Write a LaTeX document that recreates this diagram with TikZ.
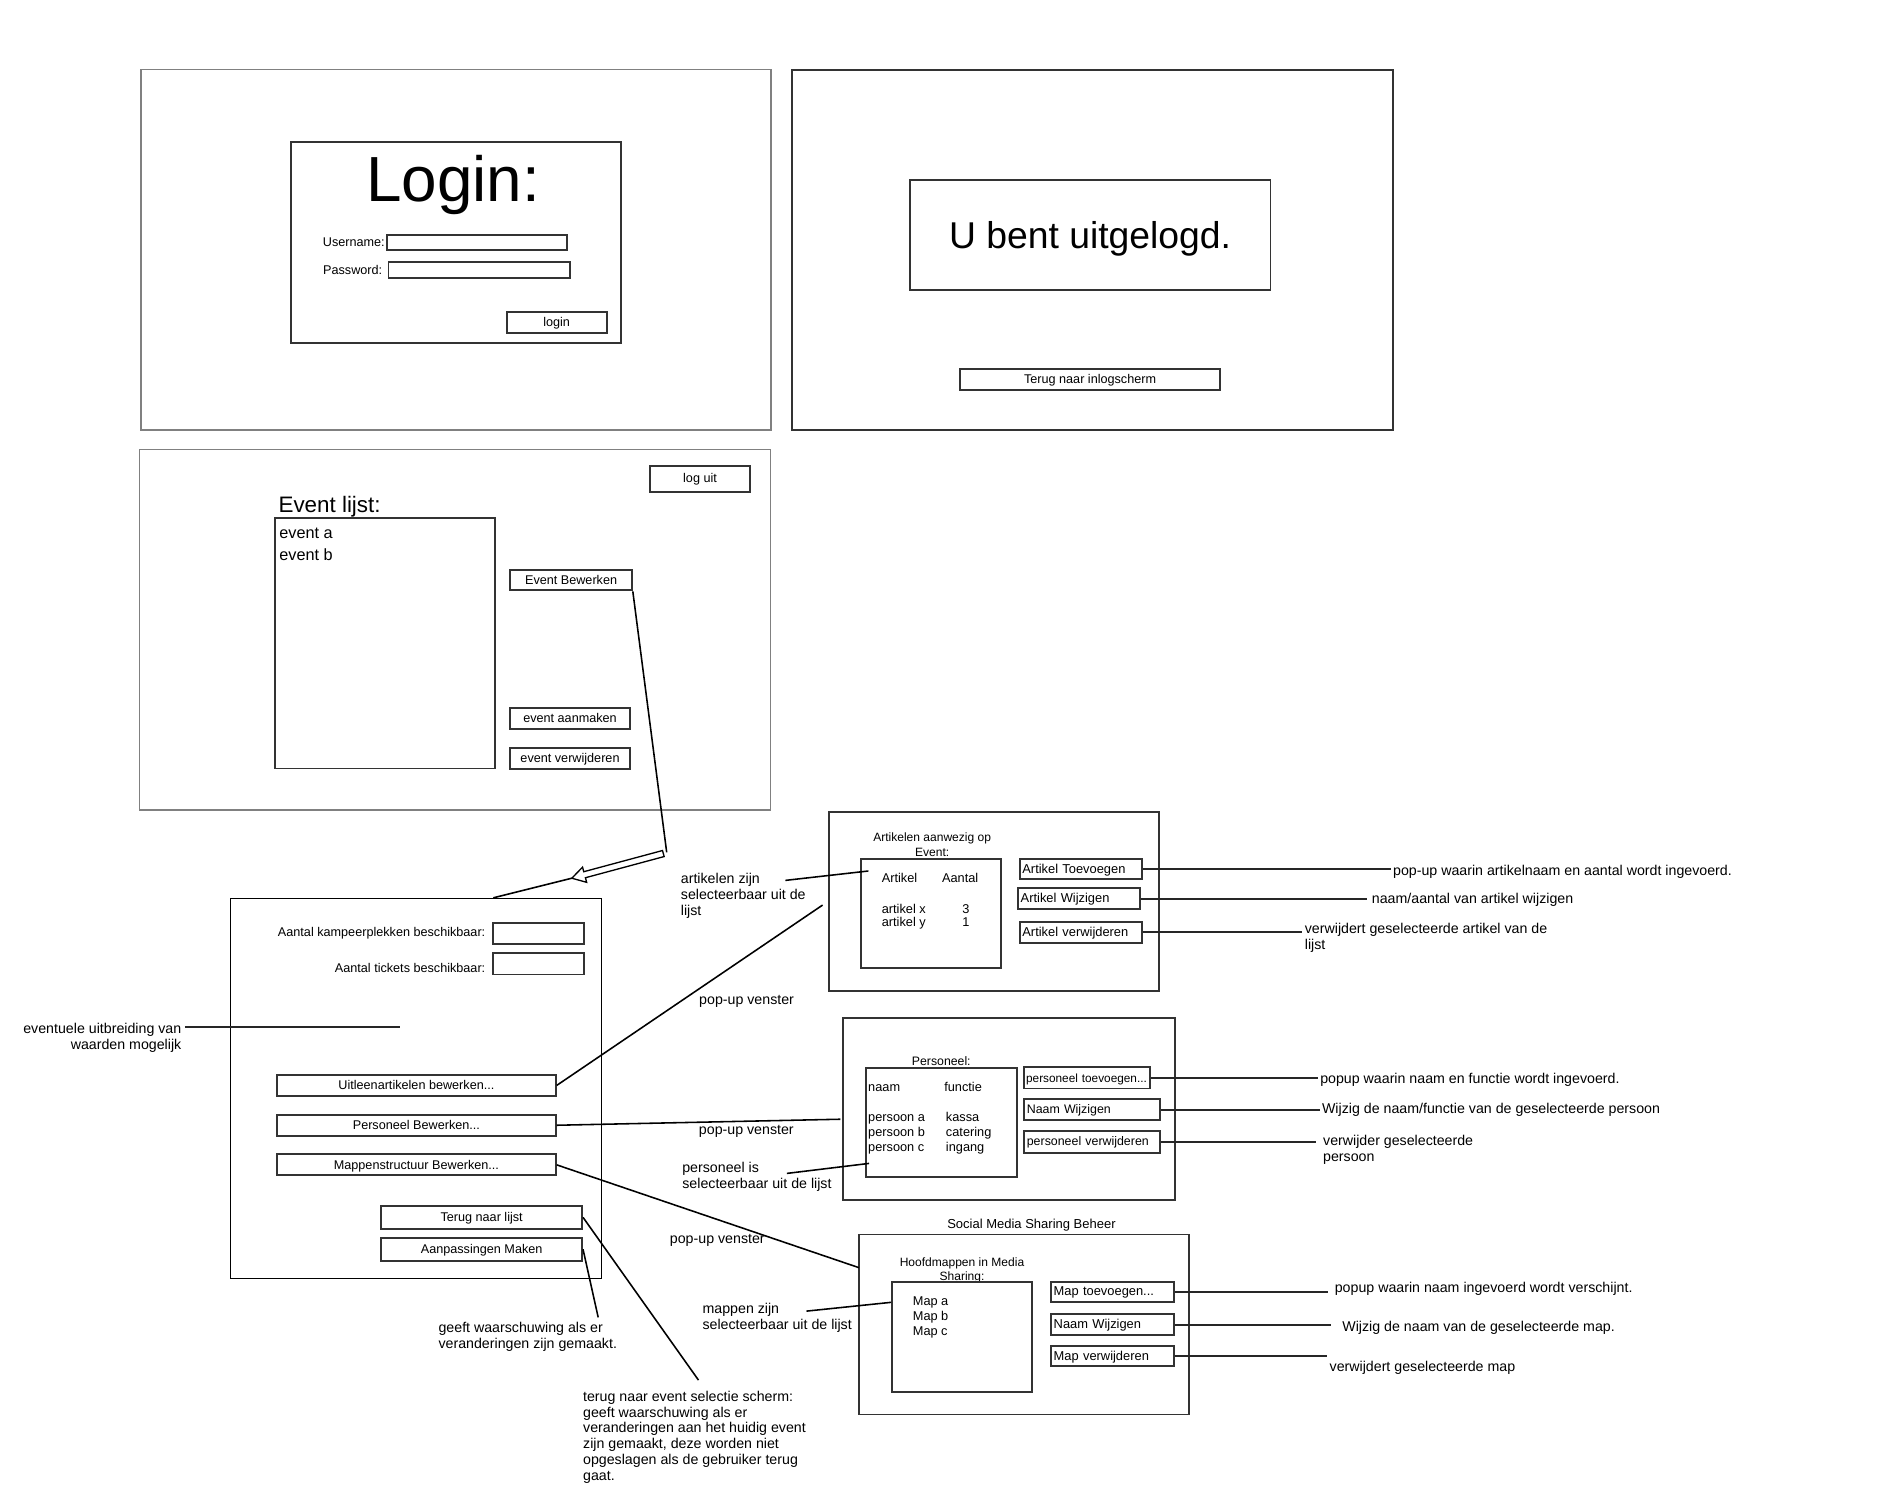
\documentclass[tikz,border=0pt]{standalone}
\usepackage{fontspec}
\setmainfont{Liberation Sans}
\usetikzlibrary{calc}

\begin{document}
\begin{tikzpicture}
    [
        x = 1pt, y = -1pt,
        screen/.style = {draw = black!50, line width = 1.2pt, inner sep = 0pt},
        pane/.style = {draw = black!80, line width = 1.6pt, inner sep = 0pt},
        editpane/.style = {draw = black, line width = 0.9pt, inner sep = 0pt},
        btn/.style = {draw = black!80, line width = 1.6pt, inner sep = 0pt, text height = 8pt, text depth = 1pt, font = \fontsize{10.5}{12}\selectfont},
        pbtn/.style = {draw = black!80, line width = 1.6pt, inner xsep = 2pt, inner ysep = 0pt, align = left, text height = 8pt, text depth = 1pt, font = \fontsize{10.7}{12}\selectfont},
        field/.style = {draw = black!80, line width = 1.6pt, inner sep = 0pt},
        lbl/.style = {inner sep = 0pt, font = \fontsize{10.5}{12}\selectfont},
        row/.style = {inner sep = 0pt, anchor = base west, font = \fontsize{10.6}{12}\selectfont},
        note/.style = {inner sep = 0pt, anchor = base west, align = left, font = \fontsize{11.8}{13.2}\selectfont},
        wire/.style = {line width = 1.3pt},
        hint/.style = {draw = black!85, line width = 1.6pt}
    ]
    \fill [white] (0,0) rectangle (1560,1248);

    \node [screen, minimum width = 523.5pt, minimum height = 299.6pt] (loginscreen) at (378.8,207.4) {};
    \node [pane, minimum width = 274.5pt, minimum height = 166.5pt] (loginbox) at (378.8,201.5) {};
    \node [inner sep = 0pt, anchor = base, font = \fontsize{53}{60}\selectfont] (logintitle) at (376.5,167.5) {Login:};
    \node [lbl, anchor = east] (userlbl) at (319.8,200.8) {Username:};
    \node [field, minimum width = 150pt, minimum height = 12.7pt] (userfield) at (396.2,201.4) {};
    \node [lbl, anchor = east] (passlbl) at (317.7,224) {Password:};
    \node [field, minimum width = 150.4pt, minimum height = 13.1pt] (passfield) at (397.9,224.2) {};
    \node [btn, minimum width = 83.2pt, minimum height = 17.7pt] (loginbtn) at (462.4,267.8) {login};

    \node [pane, minimum width = 498.9pt, minimum height = 299.1pt] (logoutscreen) at (907.3,207.7) {};
    \node [pane, minimum width = 299.7pt, minimum height = 91.4pt, text height = 22.6pt, text depth = 0pt, font = \fontsize{31}{36}\selectfont] (logoutmsg) at (905.5,195.2) {U bent uitgelogd.};
    \node [btn, minimum width = 215.7pt, minimum height = 17.2pt] (backlogin) at (905.5,315.4) {Terug naar inlogscherm};

    \node [screen, minimum width = 524.1pt, minimum height = 299.6pt] (eventscreen) at (378,523.1) {};
    \node [btn, minimum width = 83.2pt, minimum height = 21.6pt] (logoutbtn) at (581.5,397.6) {log uit};
    \node [inner sep = 0pt, anchor = base west, font = \fontsize{18.6}{22}\selectfont] (eventtitle) at (231.2,425.9) {Event lijst:};
    \node [field, minimum width = 183pt, minimum height = 207.7pt] (eventlist) at (319.8,534.5) {};
    \node [row, font = \fontsize{13.5}{16}\selectfont] (eventa) at (231.9,447.7) {event a};
    \node [row, font = \fontsize{13.5}{16}\selectfont] (eventb) at (231.9,465.2) {event b};
    \node [btn, minimum width = 100.9pt, minimum height = 17.2pt] (editbtn) at (474.4,481.8) {Event Bewerken};
    \node [btn, minimum width = 99.1pt, minimum height = 17.4pt] (newbtn) at (473.5,596.6) {event aanmaken};
    \node [btn, minimum width = 99.1pt, minimum height = 17.7pt] (delbtn) at (473.5,630) {event verwijderen};

    \node [editpane, minimum width = 308.5pt, minimum height = 315.7pt] (editscreen) at (345.7,904.1) {};
    \node [lbl, anchor = base east] (camplbl) at (403.3,777.7) {Aantal kampeerplekken beschikbaar:};
    \node [field, minimum width = 75.7pt, minimum height = 17.2pt] (campfield) at (447.5,775.6) {};
    \node [lbl, anchor = base east] (ticketlbl) at (403.3,807.6) {Aantal tickets beschikbaar:};
    \node [field, minimum width = 75.7pt, minimum height = 17.5pt] (ticketfield) at (447.5,800.7) {};
    \node [btn, minimum width = 231.5pt, minimum height = 17.2pt] (itemsbtn) at (345.9,901.6) {Uitleenartikelen bewerken...};
    \node [btn, minimum width = 231.5pt, minimum height = 17.4pt] (staffbtn) at (345.9,934.7) {Personeel Bewerken...};
    \node [btn, minimum width = 231.5pt, minimum height = 17.4pt] (foldersbtn) at (345.9,967.6) {Mappenstructuur Bewerken...};
    \node [btn, minimum width = 166.8pt, minimum height = 19.1pt] (backbtn) at (400.1,1011.2) {Terug naar lijst};
    \node [btn, minimum width = 166.8pt, minimum height = 19.2pt] (savebtn) at (400.1,1037.7) {Aanpassingen Maken};

    \node [note, anchor = base east, align = right, inner xsep = 2.8pt] (extranote) at (153.6,871.9) {eventuele uitbreiding van\\waarden mogelijk};
    \coordinate (extraend) at (332.6,853.1);
    \draw [hint] (extranote.east |- extraend) -- (extraend);

    \coordinate (turn) at (553.8,708);
    \coordinate (tip) at (475,729.5);
    \draw [wire] (editbtn.south east) -- (turn);
    \draw [line width = 1.1pt, fill = white] (550.3,706.5) -- (484.9,724.1) -- (483.9,720.3) -- (tip) -- (487.3,732.9) -- (486.3,729.1) -- (551.7,711.5) -- cycle;
    \draw [wire] (tip) -- ($(editscreen.north west)!0.707!(editscreen.north east)$);

    \node [pane, minimum width = 273.7pt, minimum height = 148.9pt] (itemspane) at (825.7,748.8) {};
    \node [inner sep = 0pt, anchor = base, align = center, font = \fontsize{10}{12.7}\selectfont] (itemstitle) at (774.3,711.8) {Artikelen aanwezig op\\Event:};
    \node [field, minimum width = 116.3pt, minimum height = 90.8pt] (itemslist) at (773.1,759) {};
    \node [row] (colname) at (732.3,732.8) {Artikel};
    \node [row] (colcount) at (782.4,732.8) {Aantal};
    \node [row] (itemx) at (732.3,758.8) {artikel x};
    \node [row, anchor = base] (countx) at (802.3,758.8) {3};
    \node [row] (itemy) at (732.3,769.8) {artikel y};
    \node [row, anchor = base] (county) at (802.3,769.8) {1};
    \node [pbtn, text width = 97.1pt, minimum height = 16.3pt] (itemadd) at (897.8,722) {Artikel Toevoegen};
    \node [pbtn, text width = 97.1pt, minimum height = 17.2pt] (itemedit) at (896.4,746.5) {Artikel Wijzigen};
    \node [pbtn, text width = 97.1pt, minimum height = 17.5pt] (itemdel) at (897.8,774.4) {Artikel verwijderen};
    \node [note, inner xsep = 1.9pt] (itemaddnote) at (1155.1,727) {pop-up waarin artikelnaam en aantal wordt ingevoerd.};
    \node [note, inner xsep = 3.9pt] (itemeditnote) at (1135.5,750.8) {naam/aantal van artikel wijzigen};
    \node [note, inner xsep = 1.9pt] (itemdelnote) at (1081.8,788.9) {verwijdert geselecteerde artikel van de\\lijst};
    \draw [hint] (itemadd.east) -- (itemadd.east -| itemaddnote.west);
    \draw [hint] (itemedit.east) -- (itemedit.east -| itemeditnote.west);
    \draw [hint] (itemdel.east) -- (itemdel.east -| itemdelnote.west);
    \node [note] (itemspick) at (565.4,760.6) {artikelen zijn\\selecteerbaar uit de\\lijst};
    \coordinate (itemspickstart) at (652.4,731.3);
    \coordinate (itemspickend) at (721.3,723.5);
    \draw [wire] (itemspickstart) -- (itemspickend);

    \node [pane, minimum width = 275.5pt, minimum height = 150.9pt] (staffpane) at (838.2,921.4) {};
    \node [inner sep = 0pt, anchor = base, font = \fontsize{10.2}{12}\selectfont] (stafftitle) at (781.9,885.4) {Personeel:};
    \node [field, minimum width = 125.4pt, minimum height = 91.1pt] (stafflist) at (782.1,932.5) {};
    \node [row] (colperson) at (721,906.4) {naam};
    \node [row] (colrole) at (784.2,906.4) {functie};
    \node [row] (persona) at (721,931.9) {persoon a};
    \node [row] (rolea) at (785.6,931.9) {kassa};
    \node [row] (personb) at (721,944.3) {persoon b};
    \node [row] (roleb) at (785.6,944.3) {catering};
    \node [row] (personc) at (721,956.8) {persoon c};
    \node [row] (rolec) at (785.6,956.8) {ingang};
    \node [pbtn, text width = 101.4pt, inner xsep = 1.5pt, minimum height = 17.5pt, font = \fontsize{9.8}{12}\selectfont] (staffadd) at (903.1,895.4) {personeel toevoegen...};
    \node [pbtn, text width = 108.7pt, minimum height = 17.2pt, font = \fontsize{10.3}{12}\selectfont] (staffedit) at (907.3,921.8) {Naam Wijzigen};
    \node [pbtn, text width = 108.7pt, minimum height = 18.3pt, font = \fontsize{10.3}{12}\selectfont] (staffdel) at (907.3,948.4) {personeel verwijderen};
    \node [note, inner xsep = 1.5pt] (staffaddnote) at (1095,900.3) {popup waarin naam en functie wordt ingevoerd.};
    \node [note, inner xsep = 1.5pt] (staffeditnote) at (1096.5,924.7) {Wijzig de naam/functie van de geselecteerde persoon};
    \node [note, inner xsep = 5.4pt] (staffdelnote) at (1093.5,964.5) {verwijder geselecteerde\\persoon};
    \draw [hint] (staffadd.east) -- (staffadd.east -| staffaddnote.west);
    \draw [hint] (staffedit.east) -- (staffedit.east -| staffeditnote.west);
    \draw [hint] (staffdel.east) -- (staffdel.east -| staffdelnote.west);
    \node [note] (staffpick) at (566.6,987.4) {personeel is\\selecteerbaar uit de lijst};
    \coordinate (staffpickstart) at (653.6,974.7);
    \coordinate (staffpickend) at (721.9,966.4);
    \draw [wire] (staffpickstart) -- (staffpickend);

    \node [inner sep = 0pt, anchor = base, font = \fontsize{10.8}{12}\selectfont] (socialtitle) at (856.8,1020.5) {Social Media Sharing Beheer};
    \node [pane, minimum width = 274.2pt, minimum height = 149.5pt] (folderpane) at (850.6,1100.2) {};
    \node [inner sep = 0pt, anchor = base, align = center, font = \fontsize{10}{11.5}\selectfont] (foldertitle) at (799.1,1063.6) {Hoofdmappen in Media\\Sharing:};
    \node [field, minimum width = 116.6pt, minimum height = 91.9pt] (folderlist) at (799,1110.7) {};
    \node [row] (mapa) at (758.1,1084.2) {Map a};
    \node [row] (mapb) at (758.1,1096.9) {Map b};
    \node [row] (mapc) at (758.1,1109.1) {Map c};
    \node [pbtn, text width = 97.8pt, minimum height = 16.6pt] (folderadd) at (924.2,1073) {Map toevoegen...};
    \node [pbtn, text width = 97.8pt, minimum height = 17.2pt] (folderedit) at (924.2,1100.4) {Naam Wijzigen};
    \node [pbtn, text width = 97.8pt, minimum height = 16.6pt] (folderdel) at (924.2,1126.2) {Map verwijderen};
    \node [note, inner xsep = 5.1pt] (folderaddnote) at (1103.5,1073.9) {popup waarin naam ingevoerd wordt verschijnt.};
    \node [note, inner xsep = 9.7pt] (foldereditnote) at (1105.2,1105.8) {Wijzig de naam van de geselecteerde map.};
    \node [note, inner xsep = 2.1pt] (folderdelnote) at (1102.2,1139) {verwijdert geselecteerde map};
    \draw [hint] (folderadd.east) -- (folderadd.east -| folderaddnote.west);
    \draw [hint] (folderedit.east) -- (folderedit.east -| foldereditnote.west);
    \draw [hint] (folderdel.east) -- (folderdel.east -| folderdelnote.west);
    \node [note] (folderpick) at (583.4,1104.6) {mappen zijn\\selecteerbaar uit de lijst};
    \coordinate (folderpickstart) at (669.9,1089.1);
    \coordinate (folderpickend) at (740.2,1081.8);
    \draw [wire] (folderpickstart) -- (folderpickend);

    \node [note] (itemspopup) at (580.6,834) {pop-up venster};
    \node [note] (staffpopup) at (580.4,942.1) {pop-up venster};
    \node [note] (folderpopup) at (556.3,1033.2) {pop-up venster};
    \coordinate (itemsend) at (683.3,751.8);
    \coordinate (staffend) at (698.1,929.7);
    \coordinate (folderend) at (713.5,1053);
    \draw [wire] (itemsbtn.east) -- (itemsend);
    \draw [wire] (staffbtn.east) -- (staffend);
    \draw [wire] (foldersbtn.east) -- (folderend);

    \node [note] (savenote) at (364.1,1120.3) {geeft waarschuwing als er\\veranderingen zijn gemaakt.};
    \coordinate (saveend) at (496.9,1094.3);
    \draw [wire] (savebtn.east) -- (saveend);
    \node [note] (backnote) at (484.2,1229.9) {terug naar event selectie scherm:\\geeft waarschuwing als er\\veranderingen aan het huidig event\\zijn gemaakt, deze worden niet\\opgeslagen als de gebruiker terug\\gaat.};
    \coordinate (backend) at (580.2,1146.4);
    \draw [wire] (backbtn.east) -- (backend);
\end{tikzpicture}
\end{document}
